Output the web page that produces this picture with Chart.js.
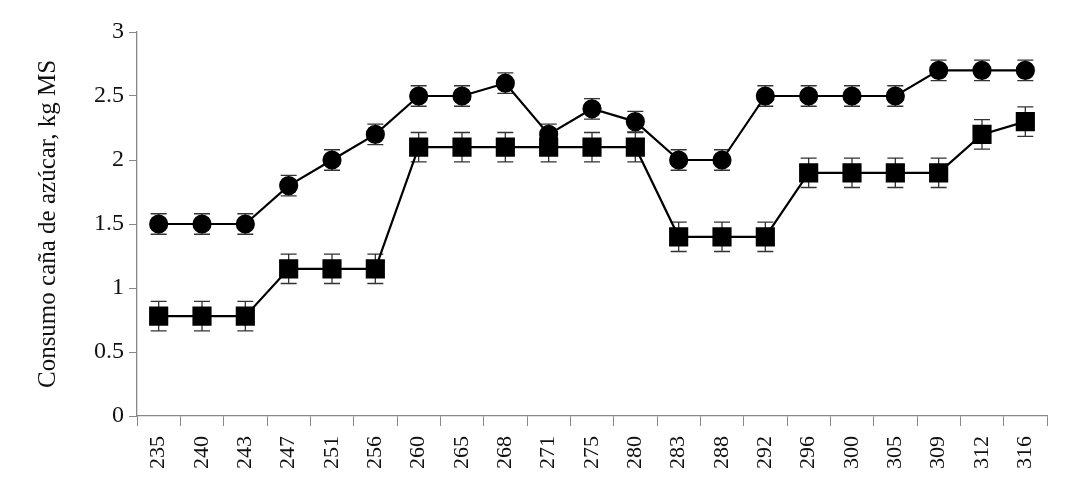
<!DOCTYPE html>
<html>
<head>
<meta charset="utf-8">
<script src="https://cdn.jsdelivr.net/npm/chart.js@4"></script>
<style>
  body { margin: 0; background: #fff; }
  #wrap { width: 1091px; height: 480px; }
</style>
</head>
<body>
<div id="wrap"><canvas id="myChart"></canvas></div>
<script>
const dias = ["235", "240", "243", "247", "251", "256", "260", "265", "268", "271", "275", "280", "283", "288", "292", "296", "300", "305", "309", "312", "316"];
const serieCirculo = [1.5, 1.5, 1.5, 1.8, 2.0, 2.2, 2.5, 2.5, 2.6, 2.2, 2.4, 2.3, 2.0, 2.0, 2.5, 2.5, 2.5, 2.5, 2.7, 2.7, 2.7];
const errorCirculo = [0.08, 0.08, 0.08, 0.08, 0.08, 0.08, 0.08, 0.08, 0.08, 0.08, 0.08, 0.08, 0.08, 0.08, 0.08, 0.08, 0.08, 0.08, 0.08, 0.08, 0.08];
const serieCuadro = [0.78, 0.78, 0.78, 1.15, 1.15, 1.15, 2.1, 2.1, 2.1, 2.1, 2.1, 2.1, 1.4, 1.4, 1.4, 1.9, 1.9, 1.9, 1.9, 2.2, 2.3];
const errorCuadro = [0.115, 0.115, 0.115, 0.115, 0.115, 0.115, 0.115, 0.115, 0.115, 0.115, 0.115, 0.115, 0.115, 0.115, 0.115, 0.115, 0.115, 0.115, 0.115, 0.115, 0.115];
const yTicks = [0, 0.5, 1, 1.5, 2, 2.5, 3];

// barras de error dibujadas con las escalas del grafico
const errorBars = {
  id: "errorBars",
  beforeDatasetsDraw(chart) {
    const ctx = chart.ctx;
    const x = chart.scales.x;
    const y = chart.scales.y;
    const sets = [[serieCirculo, errorCirculo], [serieCuadro, errorCuadro]];
    ctx.save();
    ctx.strokeStyle = "#333";
    ctx.lineWidth = 1.3;
    sets.forEach(function (s) {
      for (let i = 0; i < s[0].length; i++) {
        const px = x.getPixelForValue(i);
        const top = y.getPixelForValue(s[0][i] + s[1][i]);
        const bot = y.getPixelForValue(s[0][i] - s[1][i]);
        ctx.beginPath();
        ctx.moveTo(px, top);
        ctx.lineTo(px, bot);
        ctx.moveTo(px - 8, top);
        ctx.lineTo(px + 8, top);
        ctx.moveTo(px - 8, bot);
        ctx.lineTo(px + 8, bot);
        ctx.stroke();
      }
    });
    ctx.restore();
  }
};

const fuente = "'Liberation Serif', 'Times New Roman', serif";

const config = {
  type: "line",
  data: {
    labels: dias,
    datasets: [
      {
        label: "Circulo",
        data: serieCirculo,
        borderColor: "#000",
        backgroundColor: "#000",
        borderWidth: 2.2,
        pointStyle: "circle",
        pointRadius: 8.5,
        pointHoverRadius: 8.5,
        tension: 0
      },
      {
        label: "Cuadro",
        data: serieCuadro,
        borderColor: "#000",
        backgroundColor: "#000",
        borderWidth: 2.2,
        pointStyle: "rect",
        pointRadius: 12,
        pointHoverRadius: 12,
        tension: 0
      }
    ]
  },
  options: {
    responsive: true,
    maintainAspectRatio: false,
    animation: false,
    layout: { padding: { top: 32, right: 44, left: 31, bottom: 1 } },
    plugins: { legend: { display: false }, tooltip: { enabled: false } },
    scales: {
      x: {
        offset: true,
        grid: { offset: true, drawOnChartArea: false, color: "#888", tickLength: 10 },
        border: { color: "#888", width: 1.3 },
        ticks: { color: "#111", font: { family: fuente, size: 22 }, minRotation: 90, maxRotation: 90, padding: 10 }
      },
      y: {
        min: 0,
        max: 3,
        afterBuildTicks(axis) { axis.ticks = yTicks.map(v => ({ value: v })); },
        grid: { drawOnChartArea: false, color: "#888", tickLength: 8 },
        border: { color: "#888", width: 1.3 },
        ticks: { color: "#111", font: { family: fuente, size: 24 }, padding: 5, callback: v => String(v) },
        title: { display: true, text: "Consumo caña de azúcar, kg MS", color: "#111", font: { family: fuente, size: 25 }, padding: { top: 2, bottom: 26 } }
      }
    }
  },
  plugins: [errorBars]
};

const myChart = new Chart(document.getElementById("myChart"), config);
</script>
</body>
</html>
